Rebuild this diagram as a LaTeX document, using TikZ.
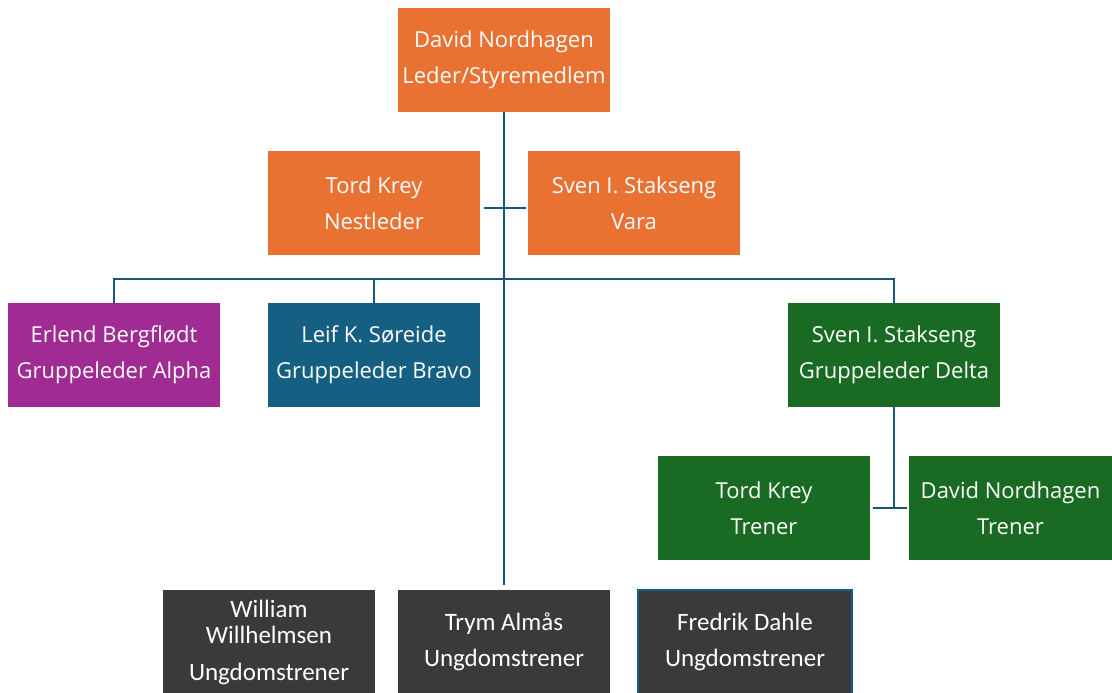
\documentclass[tikz,border=0pt]{standalone}
\usepackage{fontspec}
\setmainfont{Open Sans}
\newfontfamily\narrowfont{Carlito}
\usetikzlibrary{calc}

\definecolor{orgorange}{HTML}{E97132}
\definecolor{orgmagenta}{HTML}{A02B93}
\definecolor{orgblue}{HTML}{156082}
\definecolor{orggreen}{HTML}{196B24}
\definecolor{orggray}{HTML}{3A3A3A}
\definecolor{orgline}{HTML}{1A5677}

\tikzset{
  box/.style={minimum width=212pt, minimum height=104pt, inner sep=0pt, text=white,
    align=center, font=\fontsize{22}{36}\selectfont},
  youthbox/.style={box, fill=orggray, font=\narrowfont\fontsize{25}{26}\selectfont},
  conn/.style={draw=orgline, line width=2.6pt}
}

\begin{document}
\begin{tikzpicture}[x=1pt,y=-1pt]
\useasboundingbox (0,0) rectangle (1112,693);
\node[box,fill=orgorange] (leder) at (504,60) {David Nordhagen\\Leder/Styremedlem};
\node[box,fill=orgorange] (nestleder) at (374,203) {Tord Krey\\Nestleder};
\node[box,fill=orgorange] (vara) at (634,203) {Sven I. Stakseng\\Vara};
\node[box,fill=orgmagenta] (alpha) at (114,355) {Erlend Bergflødt\\Gruppeleder Alpha};
\node[box,fill=orgblue] (bravo) at (374,355) {Leif K. Søreide\\Gruppeleder Bravo};
\node[box,fill=orggreen] (delta) at (894,355) {Sven I. Stakseng\\Gruppeleder Delta};
\node[box,fill=orggreen] (trener1) at (764,508) {Tord Krey\\Trener};
\node[box,fill=orggreen,minimum width=203pt] (trener2) at (1010.5,508) {David Nordhagen\\Trener};
\node[youthbox] (ung1) at (269,642) {William\\Willhelmsen\\[11pt]Ungdomstrener};
\node[youthbox] (ung2) at (504,642) {Trym Almås\\[10pt]Ungdomstrener};
\node[youthbox,draw=orgblue,line width=1.5pt,minimum width=214pt] (ung3) at (745,642) {Fredrik Dahle\\[10pt]Ungdomstrener};
\coordinate (bus) at (504,279);
\draw[conn] (leder.south) -- ([yshift=5pt]ung2.north);
\draw[conn] ([xshift=4pt,yshift=-5pt]nestleder.east) -- ([xshift=-2pt,yshift=-5pt]vara.west);
\draw[conn] (alpha.north) |- (bus) -| (delta.north);
\draw[conn] (bravo.north) |- (bus);
\draw[conn] (delta.south) -- (delta.south |- trener1.east);
\draw[conn] ([xshift=3pt]trener1.east) -- ([xshift=-2pt]trener2.west);
\end{tikzpicture}
\end{document}
